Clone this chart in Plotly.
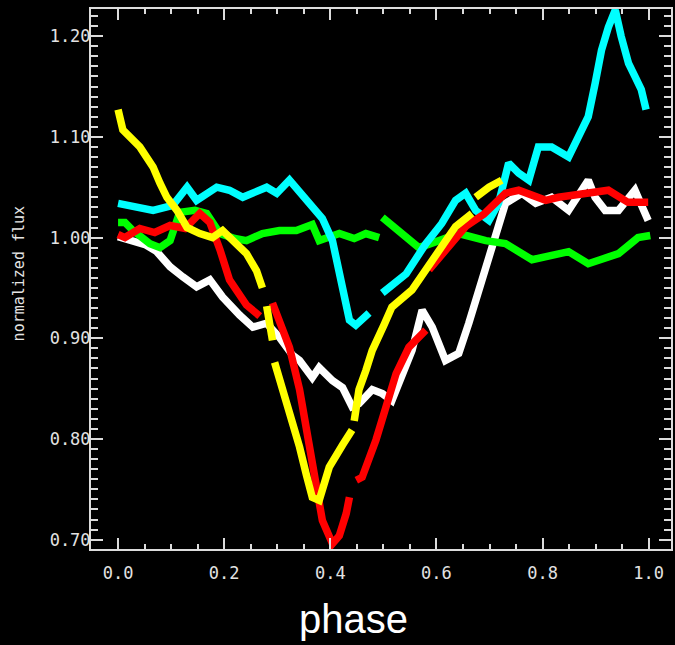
import plotly.graph_objects as go

# Phase-folded light curves; None marks breaks in coverage.
white_phase = [0.0, 0.023, 0.051, 0.073, 0.098, 0.122, 0.148, 0.173, 0.197, 0.229, 0.254, 0.280,
               0.304, 0.329, 0.342, 0.366, 0.379, 0.404, 0.423, 0.441, 0.454, 0.479, 0.498, 0.516,
               0.535, 0.554, 0.573, 0.592, 0.617, 0.629, 0.642, 0.661, 0.674, 0.686, 0.704, 0.717,
               0.730, 0.761, 0.787, 0.817, 0.849, 0.886, 0.899, 0.918, 0.943, 0.974, 0.986, 0.999]
white_flux = [1.001, 0.998, 0.993, 0.986, 0.971, 0.961, 0.951, 0.958, 0.941, 0.923, 0.911, 0.915,
              0.901, 0.883, 0.878, 0.861, 0.871, 0.858, 0.851, 0.832, 0.835, 0.849, 0.845, 0.838,
              0.865, 0.888, 0.928, 0.911, 0.878, 0.881, 0.885, 0.915, 0.938, 0.958, 0.991, 1.017,
              1.034, 1.044, 1.034, 1.040, 1.027, 1.057, 1.040, 1.027, 1.027, 1.047, 1.034, 1.017]

green_phase = [0.0, 0.013, 0.028, 0.060, 0.079, 0.098, 0.116, 0.145, 0.167, 0.192, 0.220, 0.242,
               0.272, 0.304, 0.336, 0.366, 0.379, 0.417, 0.445, 0.467, 0.492, None,
               0.498, 0.530, 0.567, 0.605, 0.642, 0.693, 0.730, 0.780, 0.811, 0.849, 0.886, 0.924,
               0.943, 0.980, 1.003]
green_flux = [1.015, 1.015, 1.007, 0.994, 0.990, 0.997, 1.025, 1.027, 1.024, 1.004, 0.999, 0.997,
              1.004, 1.007, 1.007, 1.013, 0.997, 1.004, 0.999, 1.004, 1.000, None,
              1.020, 1.007, 0.990, 0.997, 1.004, 0.997, 0.994, 0.978, 0.981, 0.986, 0.974, 0.981,
              0.984, 1.000, 1.002]

cyan_phase = [0.0, 0.041, 0.066, 0.103, 0.130, 0.148, 0.186, 0.210, 0.235, 0.280, 0.299, 0.323,
              0.355, 0.385, 0.404, 0.423, 0.436, 0.448, 0.473, None,
              0.498, 0.520, 0.543, 0.580, 0.610, 0.636, 0.655, 0.674, 0.699, 0.717, 0.736, 0.755,
              0.774, 0.792, 0.817, 0.849, 0.868, 0.886, 0.899, 0.911, 0.924, 0.937, 0.948, 0.962,
              0.974, 0.986, 0.995]
cyan_flux = [1.034, 1.030, 1.027, 1.032, 1.050, 1.037, 1.050, 1.047, 1.040, 1.050, 1.044, 1.057,
             1.037, 1.019, 0.997, 0.954, 0.918, 0.913, 0.925, None,
             0.945, 0.955, 0.964, 0.994, 1.014, 1.037, 1.044, 1.027, 1.017, 1.034, 1.074, 1.064,
             1.057, 1.090, 1.090, 1.080, 1.100, 1.120, 1.153, 1.186, 1.209, 1.226, 1.200, 1.173,
             1.160, 1.147, 1.127]

red_phase = [0.0, 0.013, 0.041, 0.069, 0.098, 0.126, 0.154, 0.173, 0.192, 0.210, 0.242, 0.267, None,
             0.291, 0.308, 0.323, 0.342, 0.361, 0.379, 0.385, 0.404, 0.417, 0.430, 0.436, None,
             0.449, 0.460, 0.486, 0.505, 0.524, 0.548, 0.580, None,
             0.586, 0.618, 0.655, 0.689, 0.730, 0.755, 0.806, 0.830, 0.886, 0.924, 0.961, 0.999]
red_flux = [1.003, 1.000, 1.009, 1.005, 1.012, 1.009, 1.024, 1.015, 0.988, 0.958, 0.933, 0.922, None,
            0.935, 0.913, 0.891, 0.849, 0.792, 0.742, 0.719, 0.696, 0.704, 0.726, 0.742, None,
            0.759, 0.762, 0.799, 0.832, 0.865, 0.891, 0.908, None,
            0.968, 0.988, 1.011, 1.023, 1.044, 1.047, 1.037, 1.040, 1.044, 1.047, 1.035, 1.035]

yellow_phase = [0.0, 0.009, 0.041, 0.066, 0.079, 0.092, 0.111, 0.130, 0.154, 0.178, 0.197, 0.216,
                0.242, 0.261, 0.272, None, 0.280, 0.291, None,
                0.295, 0.317, 0.342, 0.355, 0.366, 0.379, 0.398, 0.423, 0.441, None,
                0.445, 0.454, 0.467, 0.479, 0.501, 0.516, 0.554, 0.580, 0.605, 0.636, 0.667, None,
                0.674, 0.699, 0.723]
yellow_flux = [1.127, 1.107, 1.090, 1.070, 1.054, 1.040, 1.027, 1.010, 1.004, 1.000, 1.007, 0.997,
               0.984, 0.967, 0.950, None, 0.932, 0.898, None,
               0.876, 0.838, 0.792, 0.764, 0.742, 0.739, 0.772, 0.794, 0.809, None,
               0.818, 0.849, 0.868, 0.888, 0.913, 0.931, 0.948, 0.968, 0.988, 1.011, 1.024, None,
               1.040, 1.050, 1.057]

series = [
    ("white", white_phase, white_flux, "#ffffff"),
    ("green", green_phase, green_flux, "#00ff00"),
    ("cyan", cyan_phase, cyan_flux, "#00ffff"),
    ("red", red_phase, red_flux, "#ff0000"),
    ("yellow", yellow_phase, yellow_flux, "#ffff00"),
]

fig = go.Figure()
for name, xs, ys, col in series:
    fig.add_trace(go.Scatter(
        x=xs, y=ys, mode="lines", name=name, connectgaps=False,
        line=dict(color=col, width=7.5),
        showlegend=False,
    ))

axis_col = "#dcdcdc"
tick_font = dict(family="DejaVu Sans Mono", size=17, color="#e2e2e2")

fig.update_xaxes(
    range=[-0.051, 1.042], dtick=0.2, tick0=0, tickformat=".1f",
    showline=True, linecolor=axis_col, linewidth=2, mirror="allticks",
    ticks="inside", ticklen=11, tickwidth=1.5, tickcolor=axis_col,
    minor=dict(dtick=0.05, tick0=0, ticks="inside", ticklen=5, tickwidth=1.5, tickcolor=axis_col),
    showgrid=False, zeroline=False, tickfont=tick_font, ticklabelstandoff=8,
)
fig.update_yaxes(
    range=[0.6907, 1.227], dtick=0.1, tick0=0, tickformat=".2f",
    showline=True, linecolor=axis_col, linewidth=2, mirror="allticks",
    ticks="inside", ticklen=12, tickwidth=1.5, tickcolor=axis_col,
    minor=dict(dtick=0.01, tick0=0, ticks="inside", ticklen=7, tickwidth=1.5, tickcolor=axis_col),
    showgrid=False, zeroline=False, tickfont=tick_font, ticklabelstandoff=-5,
)

fig.add_annotation(
    text="phase", xref="paper", yref="paper", x=0.452, y=-0.130,
    xanchor="center", yanchor="middle", showarrow=False,
    font=dict(family="Liberation Sans", size=40, color="#ffffff"),
)
fig.add_annotation(
    text="normalized flux", xref="paper", yref="paper", x=-0.1237, y=0.509,
    xanchor="center", yanchor="middle", textangle=-90, showarrow=False,
    font=dict(family="DejaVu Sans Mono", size=15, color="#e6e6e6"),
)

fig.update_layout(
    width=675, height=645,
    margin=dict(l=91, r=2, t=9, b=96),
    paper_bgcolor="#000000", plot_bgcolor="#000000",
)

fig.write_html("out.html")
